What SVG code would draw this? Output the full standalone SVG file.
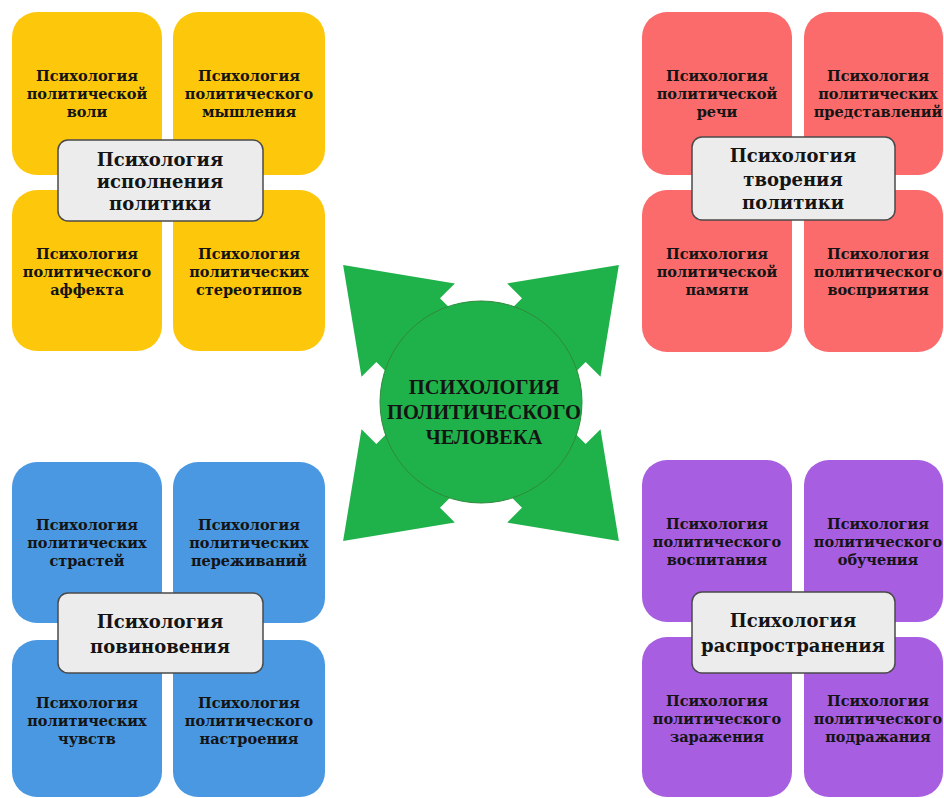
<svg xmlns="http://www.w3.org/2000/svg" xmlns:xlink="http://www.w3.org/1999/xlink" width="944" height="798" viewBox="0 0 944 798">
<style>
.y{fill:#fdc70c}
.r{fill:#fb6b6b}
.b{fill:#4a98e2}
.p{fill:#a75ee0}
.lab{fill:#ececec;stroke:#4a4a4a;stroke-width:1.5}
text{font-family:"DejaVu Serif","Liberation Serif",serif;font-weight:bold;fill:#141414;text-anchor:middle}
.s{font-size:14.5px}
.l{font-size:18px}
.c{font-size:20.5px;font-family:"Liberation Serif","Times New Roman",serif}
.g{fill:#20b24a}
</style>
<defs>
<path id="arr" d="M0,-45 L103,-45 L103,-66 L195,0 L103,66 L103,45 L0,45 Z"/>
</defs>
<rect width="944" height="798" fill="#ffffff"/>

<g id="center">
<g id="arrows" class="g">
<use xlink:href="#arr" transform="translate(481,403) rotate(-135)"/>
<use xlink:href="#arr" transform="translate(481,403) rotate(-45)"/>
<use xlink:href="#arr" transform="translate(481,403) rotate(45)"/>
<use xlink:href="#arr" transform="translate(481,403) rotate(135)"/>
</g>
<circle cx="481" cy="402" r="101" class="g" stroke="#2f8a3c" stroke-width="1"/>
<text class="c" x="484" y="394">ПСИХОЛОГИЯ</text>
<text class="c" x="484" y="419">ПОЛИТИЧЕСКОГО</text>
<text class="c" x="484" y="444">ЧЕЛОВЕКА</text>
</g>

<g id="yellow">
<g id="y1"><rect class="y" x="12" y="12" width="150" height="163" rx="25"/>
<text class="s" x="87" y="81">Психология</text><text class="s" x="87" y="99">политической</text><text class="s" x="87" y="117">воли</text></g>
<g id="y2"><rect class="y" x="173" y="12" width="152" height="163" rx="25"/>
<text class="s" x="249" y="81">Психология</text><text class="s" x="249" y="99">политического</text><text class="s" x="249" y="117">мышления</text></g>
<g id="y3"><rect class="y" x="12" y="190" width="150" height="161" rx="25"/>
<text class="s" x="87" y="259">Психология</text><text class="s" x="87" y="277">политического</text><text class="s" x="87" y="295">аффекта</text></g>
<g id="y4"><rect class="y" x="173" y="190" width="152" height="161" rx="25"/>
<text class="s" x="249" y="259">Психология</text><text class="s" x="249" y="277">политических</text><text class="s" x="249" y="295">стереотипов</text></g>
<g id="y-label"><rect class="lab" x="58" y="140" width="205" height="81" rx="10"/>
<text class="l" x="160" y="166">Психология</text><text class="l" x="160" y="188">исполнения</text><text class="l" x="160" y="210">политики</text></g>
</g>

<g id="red">
<g id="r1"><rect class="r" x="642" y="12" width="150" height="163" rx="25"/>
<text class="s" x="717" y="81">Психология</text><text class="s" x="717" y="99">политической</text><text class="s" x="717" y="117">речи</text></g>
<g id="r2"><rect class="r" x="804" y="12" width="139" height="163" rx="25"/>
<text class="s" x="878" y="81">Психология</text><text class="s" x="878" y="99">политических</text><text class="s" x="878" y="117">представлений</text></g>
<g id="r3"><rect class="r" x="642" y="190" width="150" height="162" rx="25"/>
<text class="s" x="717" y="259">Психология</text><text class="s" x="717" y="277">политической</text><text class="s" x="717" y="295">памяти</text></g>
<g id="r4"><rect class="r" x="804" y="190" width="139" height="162" rx="25"/>
<text class="s" x="878" y="259">Психология</text><text class="s" x="878" y="277">политического</text><text class="s" x="878" y="295">восприятия</text></g>
<g id="r-label"><rect class="lab" x="692" y="137" width="203" height="83" rx="10"/>
<text class="l" x="793" y="162">Психология</text><text class="l" x="793" y="186">творения</text><text class="l" x="793" y="209">политики</text></g>
</g>

<g id="blue">
<g id="b1"><rect class="b" x="12" y="462" width="150" height="161" rx="25"/>
<text class="s" x="87" y="530">Психология</text><text class="s" x="87" y="548">политических</text><text class="s" x="87" y="566">страстей</text></g>
<g id="b2"><rect class="b" x="173" y="462" width="152" height="161" rx="25"/>
<text class="s" x="249" y="530">Психология</text><text class="s" x="249" y="548">политических</text><text class="s" x="249" y="566">переживаний</text></g>
<g id="b3"><rect class="b" x="12" y="640" width="150" height="157" rx="25"/>
<text class="s" x="87" y="708">Психология</text><text class="s" x="87" y="726">политических</text><text class="s" x="87" y="744">чувств</text></g>
<g id="b4"><rect class="b" x="173" y="640" width="152" height="157" rx="25"/>
<text class="s" x="249" y="708">Психология</text><text class="s" x="249" y="726">политического</text><text class="s" x="249" y="744">настроения</text></g>
<g id="b-label"><rect class="lab" x="58" y="593" width="205" height="80" rx="10"/>
<text class="l" x="160" y="628">Психология</text><text class="l" x="160" y="653">повиновения</text></g>
</g>

<g id="purple">
<g id="p1"><rect class="p" x="642" y="460" width="150" height="162" rx="25"/>
<text class="s" x="717" y="529">Психология</text><text class="s" x="717" y="547">политического</text><text class="s" x="717" y="565">воспитания</text></g>
<g id="p2"><rect class="p" x="804" y="460" width="139" height="162" rx="25"/>
<text class="s" x="878" y="529">Психология</text><text class="s" x="878" y="547">политического</text><text class="s" x="878" y="565">обучения</text></g>
<g id="p3"><rect class="p" x="642" y="637" width="150" height="160" rx="25"/>
<text class="s" x="717" y="706">Психология</text><text class="s" x="717" y="724">политического</text><text class="s" x="717" y="742">заражения</text></g>
<g id="p4"><rect class="p" x="804" y="637" width="139" height="160" rx="25"/>
<text class="s" x="878" y="706">Психология</text><text class="s" x="878" y="724">политического</text><text class="s" x="878" y="742">подражания</text></g>
<g id="p-label"><rect class="lab" x="692" y="592" width="203" height="81" rx="10"/>
<text class="l" x="793" y="627">Психология</text><text class="l" x="793" y="652">распространения</text></g>
</g>
</svg>
